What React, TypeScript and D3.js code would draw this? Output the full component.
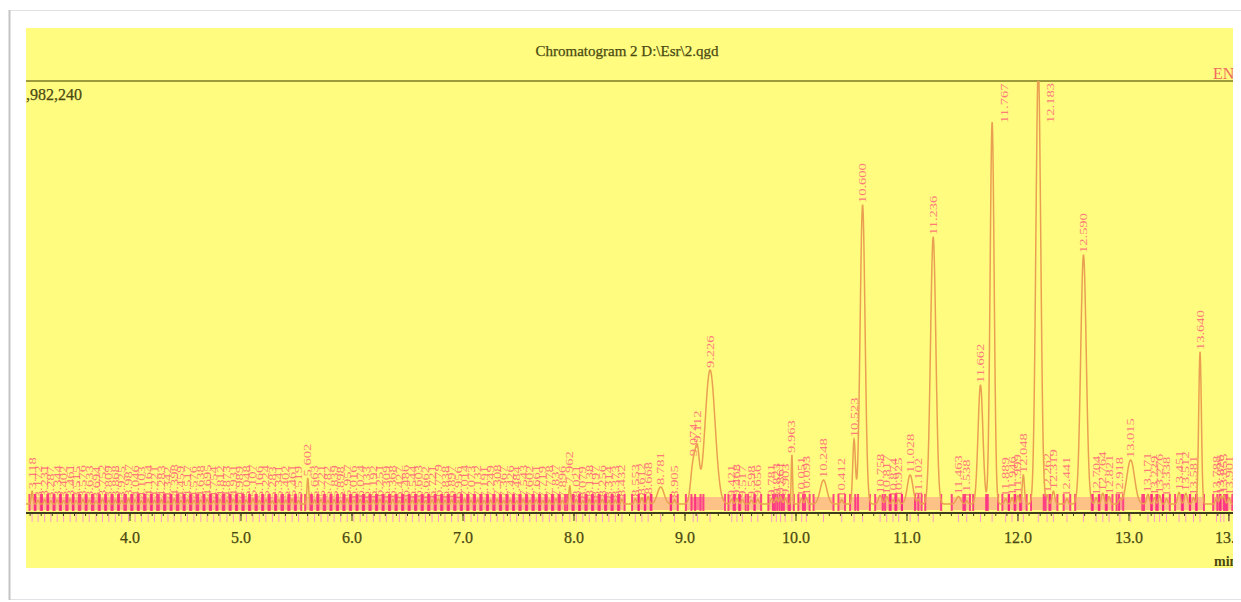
import React from "react";
import * as d3 from "d3";

const W = 1241;
const H = 602;

const titleText = "Chromatogram 2 D:\\Esr\\2.qgd";
const fullScaleLabel = "1,982,240";
const fullScale = 1982240;
const xTickValues = [4, 5, 6, 7, 8, 9, 10, 11, 12, 13, 13.9];
const timeDomain = [3.063, 13.937];

// small noise-region peaks (retention time, min)
const noiseTimes = [
  3.118, 3.172, 3.231, 3.287, 3.344, 3.402, 3.461, 3.515, 3.576, 3.633, 3.694, 3.752, 3.809, 3.868, 3.925,
  3.987, 4.046, 4.103, 4.164, 4.221, 4.283, 4.342, 4.398, 4.459, 4.517, 4.576, 4.638, 4.695, 4.754, 4.812,
  4.873, 4.931, 4.989, 5.048, 5.107, 5.166, 5.224, 5.283, 5.341, 5.402, 5.461, 5.519, 5.602, 5.663, 5.721,
  5.782, 5.839, 5.898, 5.957, 6.016, 6.074, 6.133, 6.192, 6.251, 6.309, 6.368, 6.427, 6.486, 6.544, 6.603,
  6.662, 6.721, 6.779, 6.838, 6.897, 6.956, 7.014, 7.073, 7.132, 7.191, 7.249, 7.308, 7.367, 7.426, 7.484,
  7.543, 7.602, 7.661, 7.719, 7.778, 7.837, 7.896, 7.962, 8.021, 8.079, 8.138, 8.197, 8.256, 8.314, 8.373,
  8.432,
];
const noiseHeights = [
  60000, 18000, 22000, 15000, 20000, 17000, 24000, 16000, 21000, 19000, 14000, 23000, 18000, 20000, 16000,
  25000, 19000, 15000, 22000, 18000, 20000, 14000, 24000, 17000, 21000, 16000, 19000, 23000, 15000, 20000,
  18000, 22000, 16000, 19000, 24000, 17000, 21000, 15000, 20000, 18000, 23000, 16000, 120000, 19000, 22000,
  17000, 20000, 15000, 24000, 18000, 21000, 16000, 19000, 23000, 17000, 20000, 15000, 22000, 18000, 21000,
  16000, 19000, 24000, 17000, 20000, 15000, 22000, 18000, 21000, 16000, 19000, 23000, 17000, 20000, 15000,
  22000, 18000, 21000, 16000, 19000, 24000, 17000, 85000, 20000, 15000, 22000, 18000, 21000, 16000, 19000,
  23000,
];
const noiseSigma = 0.008;

// main-region peaks
const peakTimes = [
  8.553, 8.612, 8.668, 8.781, 8.905, 9.074, 9.112, 9.226, 9.421, 9.468, 9.517, 9.598, 9.656, 9.781, 9.823,
  9.861, 9.903, 9.963, 10.051, 10.093, 10.248, 10.412, 10.523, 10.6, 10.758, 10.817, 10.874, 10.925, 11.028,
  11.102, 11.236, 11.463, 11.538, 11.662, 11.767, 11.889, 11.946, 11.999, 12.048, 12.183, 12.262, 12.319,
  12.441, 12.59, 12.704, 12.764, 12.821, 12.918, 13.015, 13.171, 13.229, 13.276, 13.338, 13.451, 13.512,
  13.581, 13.64, 13.788, 13.826, 13.855, 13.901,
];
const peakHeights = [
  25000, 30000, 35000, 80000, 20000, 190000, 210000, 628000, 22000, 25000, 20000, 18000, 22000, 25000, 30000,
  35000, 28000, 230000, 25000, 30000, 112000, 20000, 300000, 1401000, 40000, 35000, 20000, 22000, 136000,
  20000, 1251000, 35000, 15000, 557600, 1790000, 25000, 30000, 40000, 136000, 2050000, 40000, 60000,
  25000, 1167000, 30000, 50000, 35000, 20000, 206000, 45000, 30000, 40000, 25000, 55000, 50000,
  30000, 712000, 30000, 35000, 40000, 30000,
];
const peakSigmas = [
  0.01, 0.01, 0.01, 0.03, 0.01, 0.022, 0.018, 0.045, 0.01, 0.01, 0.01, 0.01, 0.01, 0.01, 0.01,
  0.01, 0.01, 0.006, 0.01, 0.01, 0.03, 0.01, 0.012, 0.022, 0.015, 0.012, 0.01, 0.01, 0.025,
  0.01, 0.024, 0.02, 0.01, 0.022, 0.018, 0.01, 0.01, 0.01, 0.01, 0.022, 0.01, 0.012,
  0.01, 0.025, 0.01, 0.012, 0.01, 0.01, 0.035, 0.012, 0.01, 0.01, 0.01, 0.012, 0.012,
  0.01, 0.012, 0.01, 0.01, 0.01, 0.01,
];

type Peak = { t: number; h: number; s: number };

const peaks: Peak[] = [
  ...noiseTimes.map((t, i) => ({ t, h: noiseHeights[i], s: noiseSigma })),
  ...peakTimes.map((t, i) => ({ t, h: peakHeights[i], s: peakSigmas[i] })),
];

const PL = 26, PR = 1233, PT = 28, PB = 568;
const TOPLINE = 81;
const BASE = 504;
const AXIS = 513;

const x = d3.scaleLinear().domain(timeDomain).range([PL, PR]);
const y = d3.scaleLinear().domain([0, fullScale]).range([BASE, TOPLINE]);

const signal = (t: number) =>
  peaks.reduce((acc, p) => {
    const d = t - p.t;
    if (Math.abs(d) > p.s * 8) return acc;
    return acc + p.h * Math.exp(-(d * d) / (2 * p.s * p.s));
  }, 0);

const grid = d3.range(timeDomain[0], timeDomain[1], 0.002);
const trace = d3
  .line<number>()
  .x((t) => x(t))
  .y((t) => y(signal(t)))(grid) as string;

const minorTicks = d3.range(3.1, 13.95, 0.1);

const LABEL_FS = 10;
const LABEL_SX = 1.45;

function labelLen(s: string) {
  let em = 0;
  for (const c of s) em += c === "." ? 0.25 : 0.5;
  return em * LABEL_FS * LABEL_SX;
}

export default function App() {
  const labels = peaks.map((p) => {
    const txt = p.t.toFixed(3);
    const px = x(p.t);
    const top = Math.max(TOPLINE, y(signal(p.t)));
    const len = labelLen(txt);
    let bx = px + 3.5;
    let by = top - 2;
    if (by - len < TOPLINE + 1) {
      bx = px + 16;
      by = TOPLINE + 2 + len;
    }
    return { txt, bx, by };
  });

  return (
    <svg
      width={W}
      height={H}
      style={{ position: "absolute", left: 0, top: 0, background: "#ffffff" }}
      fontFamily="'Liberation Serif', 'DejaVu Serif', serif"
    >
      <defs>
        <clipPath id="plotClip">
          <rect x={PL} y={PT} width={PR - PL} height={PB - PT} />
        </clipPath>
        <clipPath id="traceClip">
          <rect x={PL} y={TOPLINE} width={PR - PL} height={PB - TOPLINE} />
        </clipPath>
      </defs>
      {/* page frame */}
      <rect x={9.5} y={10.5} width={1240} height={589} fill="#ffffff" stroke="#e2e2e6" />
      <line x1={9.5} y1={10} x2={9.5} y2={600} stroke="#c4c4c4" strokeWidth={2} />

      <rect x={PL} y={PT} width={PR - PL} height={PB - PT} fill="#fffc80" />

      <g clipPath="url(#plotClip)">
        <text x={627} y={56} textAnchor="middle" fontSize={15} fill="#4a4a10" stroke="#4a4a10" strokeWidth={0.25}>
          {titleText}
        </text>
        <line x1={PL} x2={PR} y1={TOPLINE} y2={TOPLINE} stroke="#9c9a3a" strokeWidth={2} />
        <text x={18} y={100} fontSize={16} fill="#4a4a10" stroke="#4a4a10" strokeWidth={0.25}>
          {fullScaleLabel}
        </text>
        <text x={1213} y={79} fontSize={16} fill="#ee6a5e">
          EN
        </text>

        {/* integration markers */}
        {peaks.map((p, i) => (
          <g key={"m" + i}>
            <rect
              x={x(p.t - 3 * p.s)}
              y={497}
              width={x(p.t + 3 * p.s) - x(p.t - 3 * p.s)}
              height={13}
              fill="#ff3d96"
              opacity={0.3}
            />
            <line x1={x(p.t - 3 * p.s)} x2={x(p.t - 3 * p.s)} y1={494} y2={511} stroke="#ff2080" strokeWidth={2} opacity={0.8} />
            <line x1={x(p.t + 3 * p.s)} x2={x(p.t + 3 * p.s)} y1={494} y2={511} stroke="#ff2080" strokeWidth={2} opacity={0.8} />
            <line x1={x(p.t)} x2={x(p.t)} y1={514} y2={522} stroke="#ff9cc4" strokeWidth={1} />
          </g>
        ))}

        {/* peak labels */}
        {labels.map((l, i) => (
          <text
            key={"l" + i}
            transform={`translate(${l.bx},${l.by}) rotate(-90) scale(${LABEL_SX},1)`}
            fontSize={LABEL_FS}
            fill="#ff4a78"
            opacity={0.72}
          >
            {l.txt}
          </text>
        ))}

        {/* trace */}
        <path d={trace} fill="none" stroke="#eaa052" strokeWidth={1.5} clipPath="url(#traceClip)" />

        {/* axis */}
        <line x1={PL} x2={PR} y1={AXIS} y2={AXIS} stroke="#3d3d1c" strokeWidth={2} />
        {minorTicks.map((t, i) => (
          <line key={"mt" + i} x1={x(t)} x2={x(t)} y1={AXIS} y2={AXIS + 3} stroke="#3d3d1c" strokeWidth={1} />
        ))}
        {xTickValues.map((t, i) => (
          <g key={"t" + i}>
            <line x1={x(t)} x2={x(t)} y1={AXIS} y2={AXIS + 8} stroke="#3d3d1c" strokeWidth={1} />
            <text x={x(t)} y={543} textAnchor="middle" fontSize={16} fill="#4a4a10" stroke="#4a4a10" strokeWidth={0.25}>
              {t.toFixed(1)}
            </text>
          </g>
        ))}
        <text x={1214} y={566} fontSize={14} fontWeight="bold" fill="#4a4a10">
          min
        </text>
      </g>
    </svg>
  );
}
